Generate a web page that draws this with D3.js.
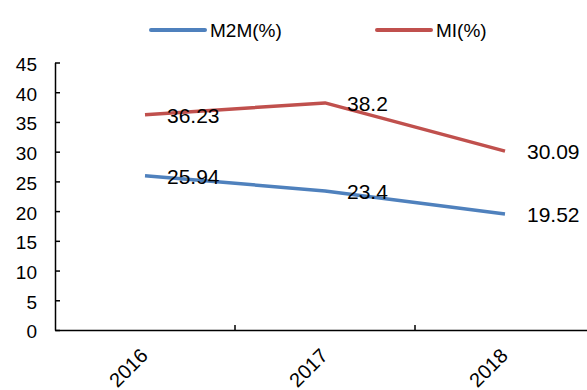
<!DOCTYPE html>
<html>
<head>
<meta charset="utf-8">
<script src="https://cdn.jsdelivr.net/npm/d3@7"></script>
<style>
  html, body { margin: 0; padding: 0; background: #fff; }
  svg { display: block; font-family: "Liberation Sans", Arial, sans-serif; }
</style>
</head>
<body>
<svg id="chart" width="587" height="390"></svg>
<script>
// Years on the category axis
const years = ["2016", "2017", "2018"];
// Series values (%)
const m2m = [25.94, 23.4, 19.52];
const mi = [36.23, 38.2, 30.09];
// Value axis ticks
const yTicks = [0, 5, 10, 15, 20, 25, 30, 35, 40, 45];

const series = [
  { name: "M2M(%)", values: m2m, color: "#4F81BD" },
  { name: "MI(%)", values: mi, color: "#C0504D" }
];

const svg = d3.select("#chart");
const plotLeft = 55, plotRight = 595, plotTop = 62.5, plotBottom = 330;

const x = d3.scaleBand().domain(years).range([plotLeft, plotRight]);
const y = d3.scaleLinear().domain([0, 45]).range([plotBottom, plotTop]);
const cx = d => x(d) + x.bandwidth() / 2;

// Y axis
const yAxis = svg.append("g")
  .attr("transform", `translate(${plotLeft},0)`)
  .call(d3.axisLeft(y).tickValues(yTicks).tickSizeInner(-5).tickSizeOuter(0).tickPadding(18));
yAxis.selectAll("path, line").attr("stroke", "#000").attr("stroke-width", 1.5);
yAxis.selectAll("text")
  .attr("font-size", 19)
  .attr("font-family", "Liberation Sans, Arial, sans-serif")
  .attr("fill", "#000")
  .attr("dy", "0.42em");

// X axis line with year labels
const xAxis = svg.append("g")
  .attr("transform", `translate(0,${plotBottom})`)
  .call(d3.axisBottom(x).tickSize(0).tickSizeOuter(0));
xAxis.select("path").attr("stroke", "#000").attr("stroke-width", 1.5);
xAxis.selectAll(".tick line").remove();
xAxis.selectAll(".tick text")
  .attr("font-size", 20)
  .attr("font-family", "Liberation Sans, Arial, sans-serif")
  .attr("fill", "#000")
  .attr("text-anchor", "end")
  .attr("y", null)
  .attr("dy", null)
  .attr("transform", "translate(4,27) rotate(-45)");

// Tick marks between categories
svg.append("g").selectAll("line")
  .data(years.slice(1))
  .join("line")
  .attr("x1", d => x(d)).attr("x2", d => x(d))
  .attr("y1", plotBottom).attr("y2", plotBottom - 5)
  .attr("stroke", "#000").attr("stroke-width", 1.5);

// Lines
const line = d3.line().x((d, i) => cx(years[i])).y(d => y(d));
svg.append("g").selectAll("path")
  .data(series)
  .join("path")
  .attr("d", s => line(s.values))
  .attr("fill", "none")
  .attr("stroke", s => s.color)
  .attr("stroke-width", 3.5)
  .attr("stroke-linejoin", "round");

// Value labels to the right of each point
series.forEach(s => {
  svg.append("g").selectAll("text")
    .data(s.values)
    .join("text")
    .attr("x", (d, i) => cx(years[i]) + 22)
    .attr("y", d => y(d) + 8)
    .attr("font-size", 21)
    .attr("fill", "#000")
    .text(d => d);
});

// Legend
const legendX = [151, 377];
const lg = svg.append("g").selectAll("g")
  .data(series)
  .join("g")
  .attr("transform", (d, i) => `translate(${legendX[i]},30)`);
lg.append("line")
  .attr("x1", 0).attr("x2", 54).attr("y1", 0).attr("y2", 0)
  .attr("stroke", d => d.color).attr("stroke-width", 4).attr("stroke-linecap", "round");
lg.append("text")
  .attr("x", 59).attr("y", 7)
  .attr("font-size", 19)
  .attr("fill", "#000")
  .text(d => d.name);
</script>
</body>
</html>
